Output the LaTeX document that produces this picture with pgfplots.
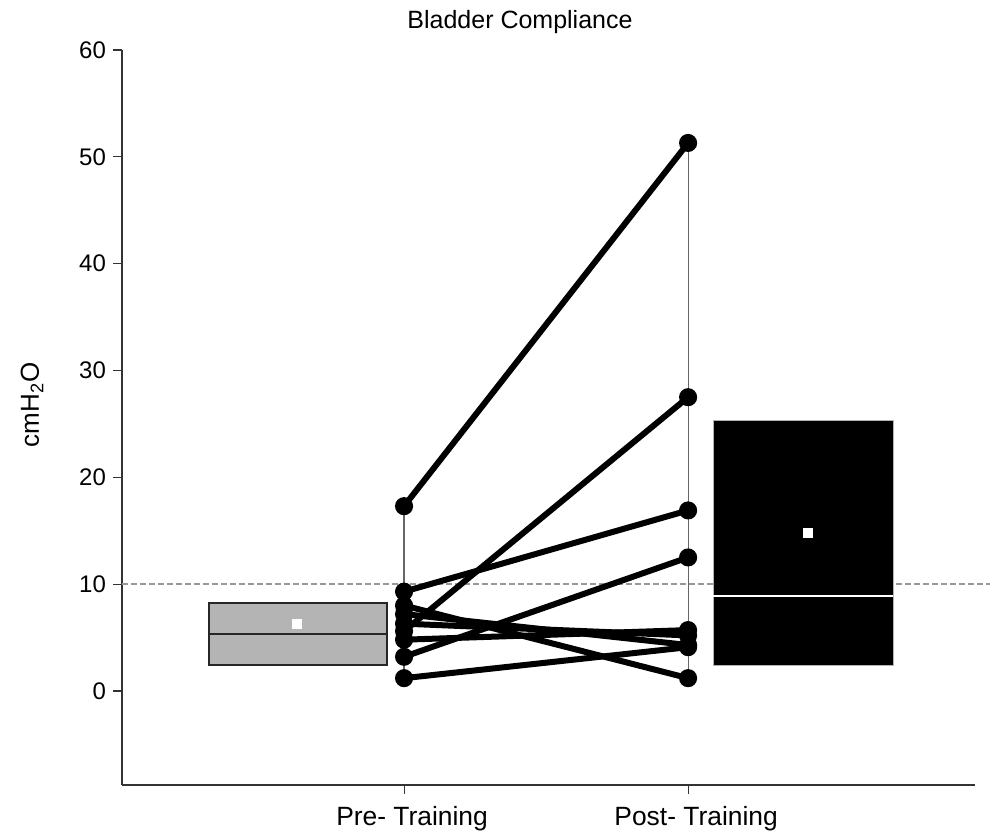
\documentclass[border=0pt]{standalone}
\usepackage{pgfplots}
\pgfplotsset{compat=1.18}
\usepackage{fontspec}
\setmainfont{Liberation Sans}

\definecolor{boxgray}{RGB}{180,180,180}

\begin{document}
\begin{tikzpicture}
\begin{axis}[
    scale only axis,
    width=426.5pt, height=367.5pt,
    xmin=0.007, xmax=3.01,
    ymin=-8.8, ymax=60,
    axis x line=bottom, axis y line=left,
    axis line style={-, line width=0.8pt, black!80},
    xtick={1,2}, xticklabels={Pre- Training, Post- Training},
    ytick={0,10,...,60},
    tick align=outside, major tick length=4.5pt,
    tick style={black!80, line width=0.6pt},
    xtick style={line width=0.4pt},
    /pgf/number format/assume math mode=true,
    yticklabel style={font=\fontsize{12}{14}\selectfont},
    xticklabel style={font=\fontsize{13.2}{16}\selectfont, yshift=-2.5pt, xshift=4pt},
    clip=false,
]
% reference level
\addplot[gray!80, dash pattern=on 3pt off 1.5pt, line width=1.1pt] coordinates {(0.007,10.05) (3.063,10.05)};

% summary boxes
\addplot[fill=boxgray, draw=black!85, line width=0.8pt] coordinates {(0.313,2.43) (0.940,2.43) (0.940,8.24) (0.313,8.24)} -- cycle;
\addplot[black!85, line width=0.8pt] coordinates {(0.313,5.34) (0.940,5.34)};
\addplot[only marks, mark=square*, mark size=2.3pt, mark options={fill=white, draw=white}] coordinates {(0.623,6.27)};

\addplot[fill=black, draw=black!30, line width=0.5pt] coordinates {(2.088,2.43) (2.722,2.43) (2.722,25.3) (2.088,25.3)} -- cycle;
\addplot[white, line width=0.8pt] coordinates {(2.088,8.9) (2.722,8.9)};
\addplot[only marks, mark=square*, mark size=2.3pt, mark options={fill=white, draw=white}] coordinates {(2.423,14.8)};

% range lines
\addplot[black!60, line width=0.6pt] coordinates {(1,1.2) (1,17.3)};
\addplot[black!60, line width=0.6pt] coordinates {(2,1.2) (2,51.3)};

% paired subjects
\addplot[black, line width=3pt, mark=*, mark size=3pt] coordinates {(1,17.3) (2,51.3)};
\addplot[black, line width=3pt, mark=*, mark size=3pt] coordinates {(1,5.6) (2,27.5)};
\addplot[black, line width=3pt, mark=*, mark size=3pt] coordinates {(1,9.3) (2,16.9)};
\addplot[black, line width=3pt, mark=*, mark size=3pt] coordinates {(1,3.2) (2,12.5)};
\addplot[black, line width=3pt, mark=*, mark size=3pt] coordinates {(1,8.0) (2,1.2)};
\addplot[black, line width=3pt, mark=*, mark size=3pt] coordinates {(1,7.2) (2,4.3)};
\addplot[black, line width=3pt, mark=*, mark size=3pt] coordinates {(1,4.8) (2,5.7)};
\addplot[black, line width=3pt, mark=*, mark size=3pt] coordinates {(1,1.2) (2,4.1)};
\addplot[black, line width=3pt, mark=*, mark size=3pt] coordinates {(1,6.3) (2,5.2)};

\coordinate (O) at (rel axis cs:0,0);
\node[font=\fontsize{12.5}{14}\selectfont] at ([shift={(199pt,381.5pt)}]rel axis cs:0,0) {Bladder Compliance};
\node[rotate=90, font=\fontsize{13}{15}\selectfont] at ([shift={(-45pt,190pt)}]rel axis cs:0,0) {cmH\textsubscript{2}O};
\end{axis}
\pgfresetboundingbox
\useasboundingbox ([shift={(-61pt,-24.5pt)}]O) rectangle ([shift={(438pt,392.5pt)}]O);
\end{tikzpicture}
\end{document}
